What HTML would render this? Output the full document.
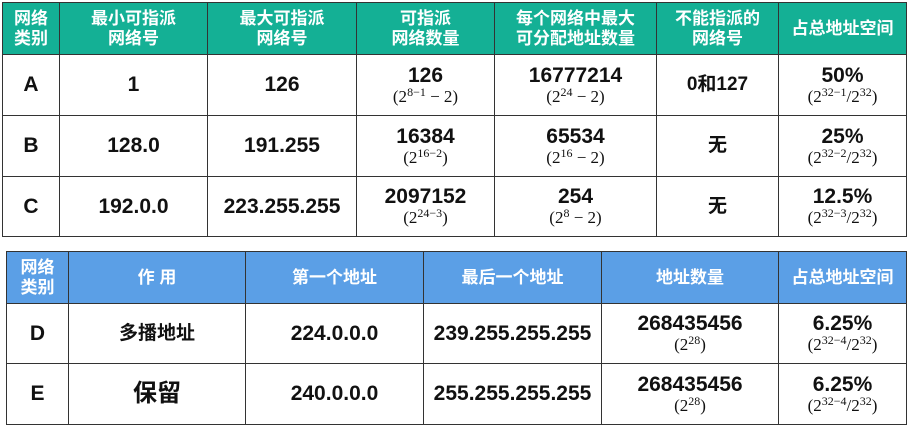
<!DOCTYPE html>
<html><head><meta charset="utf-8">
<style>
body{margin:0;width:917px;height:432px;background:#fff;position:relative;overflow:hidden;font-family:"Liberation Sans","Noto Sans CJK SC",sans-serif;}
table{position:absolute;border-collapse:collapse;table-layout:fixed;}
td,th{border:1.5px solid #333;text-align:center;vertical-align:middle;padding:0;}
th{color:#fff;font-family:"Liberation Sans","Noto Sans CJK SC",sans-serif;font-weight:bold;font-size:17px;line-height:20px;}
#t1 th{background:#14b095;}
#t2 th{background:#5b9fe6;}
td{font-weight:bold;font-size:21px;color:#111;line-height:22px;}
.f{display:block;font-family:"Liberation Serif","DejaVu Serif",serif;font-weight:normal;font-size:17px;line-height:19px;}
.f sup{font-size:12px;vertical-align:6px;line-height:0;}
.cjk{font-family:"Liberation Sans","Noto Sans CJK SC",sans-serif;font-size:19px;}
</style></head><body>
<table id="t1" style="left:2px;top:2px;width:904px;">
<colgroup><col style="width:57px"><col style="width:148px"><col style="width:149px"><col style="width:138px"><col style="width:162px"><col style="width:122px"><col style="width:128px"></colgroup>
<tr style="height:52px"><th>网络<br>类别</th><th>最小可指派<br>网络号</th><th>最大可指派<br>网络号</th><th>可指派<br>网络数量</th><th>每个网络中最大<br>可分配地址数量</th><th>不能指派的<br>网络号</th><th>占总地址空间</th></tr>
<tr style="height:61px"><td>A</td><td>1</td><td>126</td><td>126<span class="f">(2<sup>8−1</sup> − 2)</span></td><td>16777214<span class="f">(2<sup>24</sup> − 2)</span></td><td class="cjk">0和127</td><td>50%<span class="f">(2<sup>32−1</sup>/2<sup>32</sup>)</span></td></tr>
<tr style="height:61px"><td>B</td><td>128.0</td><td>191.255</td><td>16384<span class="f">(2<sup>16−2</sup>)</span></td><td>65534<span class="f">(2<sup>16</sup> − 2)</span></td><td class="cjk">无</td><td>25%<span class="f">(2<sup>32−2</sup>/2<sup>32</sup>)</span></td></tr>
<tr style="height:60px"><td>C</td><td>192.0.0</td><td>223.255.255</td><td>2097152<span class="f">(2<sup>24−3</sup>)</span></td><td>254<span class="f">(2<sup>8</sup> − 2)</span></td><td class="cjk">无</td><td>12.5%<span class="f">(2<sup>32−3</sup>/2<sup>32</sup>)</span></td></tr>
</table>
<table id="t2" style="left:6px;top:251px;width:900px;">
<colgroup><col style="width:62px"><col style="width:177px"><col style="width:178px"><col style="width:178px"><col style="width:177px"><col style="width:128px"></colgroup>
<tr style="height:52px"><th>网络<br>类别</th><th>作 用</th><th>第一个地址</th><th>最后一个地址</th><th>地址数量</th><th>占总地址空间</th></tr>
<tr style="height:60px"><td>D</td><td class="cjk">多播地址</td><td>224.0.0.0</td><td>239.255.255.255</td><td>268435456<span class="f">(2<sup>28</sup>)</span></td><td>6.25%<span class="f">(2<sup>32−4</sup>/2<sup>32</sup>)</span></td></tr>
<tr style="height:61px"><td>E</td><td class="cjk" style="font-size:24px">保留</td><td>240.0.0.0</td><td>255.255.255.255</td><td>268435456<span class="f">(2<sup>28</sup>)</span></td><td>6.25%<span class="f">(2<sup>32−4</sup>/2<sup>32</sup>)</span></td></tr>
</table>
</body></html>
